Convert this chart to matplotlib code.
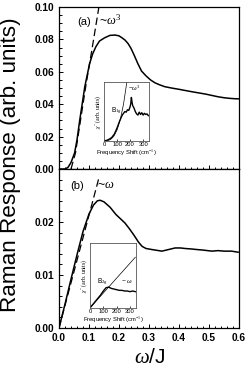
import matplotlib
matplotlib.use("Agg")
import matplotlib.pyplot as plt
from matplotlib.ticker import MultipleLocator

plt.rcParams['font.family'] = ['Liberation Sans', 'DejaVu Sans']
plt.rcParams['mathtext.fontset'] = 'custom'
plt.rcParams['mathtext.rm'] = 'Liberation Serif'
plt.rcParams['mathtext.it'] = 'Liberation Serif:italic'

# ---- data: panel (a) ----
w_a = [0.0, 0.02, 0.03, 0.04, 0.052, 0.06, 0.069, 0.078, 0.086, 0.094, 0.102, 0.112,
       0.123, 0.135, 0.152, 0.17, 0.187, 0.2, 0.21, 0.22, 0.23, 0.24, 0.25, 0.263, 0.275,
       0.29, 0.305, 0.32, 0.335, 0.353, 0.375, 0.4, 0.42, 0.443, 0.465, 0.49, 0.51, 0.53,
       0.55, 0.57, 0.585, 0.6]
r_a = [0.0, 0.0, 0.001, 0.004, 0.0099, 0.018, 0.030, 0.041, 0.0508, 0.058, 0.065, 0.071,
       0.0755, 0.079, 0.081, 0.0825, 0.0827, 0.0822, 0.081, 0.0796, 0.0775, 0.0745, 0.0705,
       0.065, 0.0605, 0.0575, 0.0550, 0.0532, 0.052, 0.0508, 0.0500, 0.0492, 0.0485,
       0.0477, 0.0470, 0.0462, 0.0454, 0.0446, 0.0440, 0.0436, 0.0434, 0.0433]
fit_a_w = [0.04, 0.055, 0.07, 0.09, 0.11, 0.133]
fit_a_r = [0.0, 0.01, 0.028, 0.052, 0.074, 0.1]

# ---- data: panel (b) ----
w_b = [0.0, 0.02, 0.04, 0.06, 0.08, 0.1, 0.115, 0.128, 0.137, 0.15, 0.17, 0.19, 0.205,
       0.22, 0.235, 0.25, 0.265, 0.277, 0.29, 0.31, 0.343, 0.365, 0.387, 0.405, 0.42,
       0.443, 0.46, 0.48, 0.51, 0.53, 0.55, 0.575, 0.597]
r_b = [0.0, 0.0045, 0.0092, 0.0138, 0.0182, 0.0215, 0.0232, 0.024, 0.0241, 0.0238, 0.0228,
       0.0214, 0.0206, 0.0198, 0.0187, 0.0175, 0.0162, 0.0154, 0.0150, 0.0148, 0.0145,
       0.0148, 0.0151, 0.0151, 0.0150, 0.0149, 0.0148, 0.0147, 0.0145, 0.0146, 0.0145,
       0.0145, 0.0143]
fit_b_w = [0.0, 0.132]
fit_b_r = [0.0, 0.0281]

# ---- inset data (a): B1g ----
ia_x = [0, 20, 40, 60, 80, 100, 120, 140, 150, 160, 170, 180, 190, 200, 205, 210, 215,
        220, 230, 240, 250, 260, 270, 280, 290, 300, 310, 320, 330, 340]
ia_y = [0.0, 0.01, 0.03, 0.06, 0.12, 0.22, 0.34, 0.44, 0.47, 0.50, 0.49, 0.53, 0.52, 0.58,
        0.63, 0.74, 0.66, 0.60, 0.56, 0.50, 0.46, 0.44, 0.49, 0.45, 0.48, 0.44, 0.47, 0.45,
        0.46, 0.43]
ia_fit_x = [0, 25, 50, 75, 100, 125, 150, 175]
ia_fit_y = [0.0, 0.003, 0.023, 0.079, 0.187, 0.364, 0.63, 1.0]

# ---- inset data (b): B2g ----
ib_x = [0, 20, 40, 60, 80, 100, 120, 140, 160, 180, 200, 220, 240, 260, 280, 300, 320, 340]
ib_y = [0.0, 0.05, 0.10, 0.15, 0.20, 0.26, 0.31, 0.32, 0.30, 0.29, 0.28, 0.27, 0.27, 0.26,
        0.26, 0.25, 0.26, 0.25]
ib_fit_x = [0, 340]
ib_fit_y = [0.0, 0.78]

fig = plt.figure(figsize=(2.5, 3.82), dpi=100)
ax1 = fig.add_axes([0.236, 0.5576, 0.72, 0.424])
ax2 = fig.add_axes([0.236, 0.1414, 0.72, 0.4162])

tick_font = dict(fontsize=7.3, fontweight='bold')

for ax in (ax1, ax2):
    ax.set_xlim(0, 0.6)
    ax.xaxis.set_major_locator(MultipleLocator(0.1))
    ax.xaxis.set_minor_locator(MultipleLocator(0.02))
    ax.tick_params(which='both', direction='in', top=False, right=False, width=0.7)
    ax.tick_params(which='major', length=3)
    ax.tick_params(which='minor', length=1.8)
    for s in ax.spines.values():
        s.set_linewidth(0.9)

ax1.plot(w_a, r_a, color='black', lw=1.1)
ax1.plot(fit_a_w, fit_a_r, color='black', lw=0.9, ls=(0, (6, 3)))
ax1.set_ylim(0, 0.1)
ax1.yaxis.set_minor_locator(MultipleLocator(0.005))
ax1.set_yticks([0, 0.02, 0.04, 0.06, 0.08, 0.10])
ax1.set_yticklabels(['0.00', '0.02', '0.04', '0.06', '0.08', '0.10'], **tick_font)
ax1.tick_params(axis='x', labelbottom=False)
ax1.text(0.06, 0.0905, '(a)', fontsize=8, va='center')
ax1.text(0.132, 0.0915, r'~$\omega^3$', fontsize=9, va='center')

ax2.plot(w_b, r_b, color='black', lw=1.1)
ax2.plot(fit_b_w, fit_b_r, color='black', lw=0.9, ls=(0, (6, 3)))
ax2.set_ylim(0, 0.03)
ax2.set_yticks([0, 0.01, 0.02])
ax2.yaxis.set_minor_locator(MultipleLocator(0.002))
ax2.set_yticklabels(['0.00', '0.01', '0.02'], **tick_font)
ax2.set_xticks([0, 0.1, 0.2, 0.3, 0.4, 0.5, 0.6])
ax2.set_xticklabels(['0.0', '0.1', '0.2', '0.3', '0.4', '0.5', '0.6'], **tick_font)
ax2.text(0.038, 0.0268, '(b)', fontsize=8, va='center')
ax2.text(0.128, 0.027, r'~$\omega$', fontsize=9, va='center')

fig.text(0.042, 0.568, 'Raman Response (arb. units)', rotation=90,
         fontsize=16.2, va='center', ha='center')
fig.text(0.60, 0.065, r'$\omega$/J', fontsize=15, va='center', ha='center')

# insets
inset_font = 4.2
def style_inset(ax, ylabel):
    ax.set_xlim(0, 345)
    ax.set_ylim(0, 1)
    ax.set_xticks([0, 100, 200, 300])
    ax.set_xticklabels(['0', '100', '200', '300'], fontsize=inset_font)
    ax.set_yticks([])
    ax.tick_params(direction='in', length=1.5, width=0.5, pad=1)
    ax.set_xlabel('Frequency Shift (cm$^{-1}$)', fontsize=inset_font, labelpad=0.5)
    ax.set_ylabel(ylabel, fontsize=inset_font, labelpad=1, family='Liberation Serif')
    for s in ax.spines.values():
        s.set_linewidth(0.6)
        s.set_color('#555555')

axi1 = fig.add_axes([0.416, 0.631, 0.18, 0.154])
axi1.plot(ia_x, ia_y, color='black', lw=1.0)
axi1.plot(ia_fit_x, ia_fit_y, color='black', lw=0.5)
style_inset(axi1, r"$\chi''$ (arb. units)")
axi1.text(55, 0.48, r'B$_{1g}$', fontsize=4.8)
axi1.text(185, 0.86, r'~$\omega^3$', fontsize=4.8)

axi2 = fig.add_axes([0.36, 0.194, 0.184, 0.170])
axi2.plot(ib_x, ib_y, color='black', lw=1.0)
axi2.plot(ib_fit_x, ib_fit_y, color='black', lw=0.5)
style_inset(axi2, r"$\chi''$ (arb. units)")
axi2.text(50, 0.36, r'B$_{2g}$', fontsize=4.8)
axi2.text(230, 0.38, r'~ $\omega$', fontsize=4.8)

fig.savefig('out.png', dpi=100)
